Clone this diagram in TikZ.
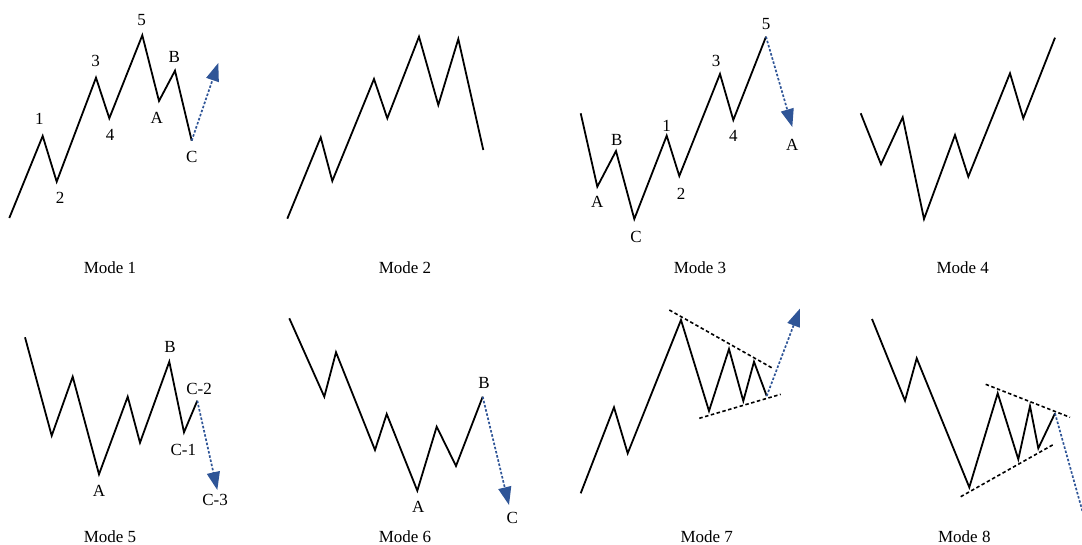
\documentclass[tikz,border=0pt]{standalone}
\usepackage{fontspec}
\setmainfont{Liberation Serif}
\usetikzlibrary{arrows.meta}
\definecolor{arrowblue}{RGB}{47,85,151}
\tikzset{
  wave/.style={line width=1.8pt, black, line join=miter},
  trend/.style={line width=1.6pt, black, dash pattern=on 3.5pt off 2.5pt},
  forecast/.style={line width=1.7pt, arrowblue, dash pattern=on 2.5pt off 1.8pt,
     -{Triangle[length=18pt,width=13pt,fill=arrowblue]}},
  lbl/.style={inner sep=0pt, font=\fontsize{17}{20}\selectfont},
}
\begin{document}
\begin{tikzpicture}[x=1pt,y=-1pt]
\useasboundingbox (0,0) rectangle (1082,545);
% ---------------- Mode 1
\coordinate (a0) at (9.3,218);
\coordinate (a1) at (42.7,136);
\coordinate (a2) at (56.7,181.7);
\coordinate (a3) at (96,77.7);
\coordinate (a4) at (109.3,118.3);
\coordinate (a5) at (142.3,35.3);
\coordinate (aA) at (159,101);
\coordinate (aB) at (175,70.7);
\coordinate (aC) at (191.7,140.7);
\coordinate (aT) at (218.3,63);
\draw[wave] (a0)--(a1)--(a2)--(a3)--(a4)--(a5)--(aA)--(aB)--(aC);
\draw[forecast] (aC)--(aT);
\node[lbl] (la1) at (39.3,119) {1};
\node[lbl] (la2) at (60,198) {2};
\node[lbl] (la3) at (95.7,61) {3};
\node[lbl] (la4) at (110,135) {4};
\node[lbl] (la5) at (141.7,20) {5};
\node[lbl] (laA) at (156.7,118) {A};
\node[lbl] (laB) at (174.3,57) {B};
\node[lbl] (laC) at (191.7,157) {C};
\node[lbl] (m1) at (110,267.5) {Mode 1};
% ---------------- Mode 2
\coordinate (b0) at (287.3,218.7);
\coordinate (b1) at (320.7,137.3);
\coordinate (b2) at (332.3,181);
\coordinate (b3) at (374,79);
\coordinate (b4) at (387.3,118.3);
\coordinate (b5) at (419,36.7);
\coordinate (b6) at (438.3,105);
\coordinate (b7) at (458.3,39);
\coordinate (b8) at (483.3,150);
\draw[wave] (b0)--(b1)--(b2)--(b3)--(b4)--(b5)--(b6)--(b7)--(b8);
\node[lbl] (m2) at (405,267.5) {Mode 2};
% ---------------- Mode 3
\coordinate (c0) at (580.7,113.3);
\coordinate (cA) at (597.3,186.7);
\coordinate (cB) at (616,151);
\coordinate (cC) at (634.3,219);
\coordinate (c1) at (666.7,135.7);
\coordinate (c2) at (679.3,176);
\coordinate (c3) at (720,74);
\coordinate (c4) at (733.3,120);
\coordinate (c5) at (766,36.7);
\coordinate (cT) at (792.3,127);
\draw[wave] (c0)--(cA)--(cB)--(cC)--(c1)--(c2)--(c3)--(c4)--(c5);
\draw[forecast] (c5)--(cT);
\node[lbl] (lcA) at (597.3,201.7) {A};
\node[lbl] (lcB) at (616.7,139.5) {B};
\node[lbl] (lcC) at (636,237.3) {C};
\node[lbl] (lc1) at (666.7,125.7) {1};
\node[lbl] (lc2) at (681,194.3) {2};
\node[lbl] (lc3) at (716,61) {3};
\node[lbl] (lc4) at (733.3,135.7) {4};
\node[lbl] (lc5) at (766,24.3) {5};
\node[lbl] (lcT) at (792.3,145) {A};
\node[lbl] (m3) at (700,267.5) {Mode 3};
% ---------------- Mode 4
\coordinate (d0) at (860.7,113.3);
\coordinate (d1) at (881,164.3);
\coordinate (d2) at (902.7,117.3);
\coordinate (d3) at (924,219);
\coordinate (d4) at (955,135);
\coordinate (d5) at (968.3,176.7);
\coordinate (d6) at (1010,73.3);
\coordinate (d7) at (1023.3,118.3);
\coordinate (d8) at (1055,37.7);
\draw[wave] (d0)--(d1)--(d2)--(d3)--(d4)--(d5)--(d6)--(d7)--(d8);
\node[lbl] (m4) at (962.7,267.5) {Mode 4};
% ---------------- Mode 5
\coordinate (e0) at (25,337.3);
\coordinate (e1) at (51.7,435.7);
\coordinate (e2) at (72.7,376.7);
\coordinate (eA) at (99,474.3);
\coordinate (e3) at (127.7,396.7);
\coordinate (e4) at (140,442.7);
\coordinate (eB) at (169.3,361.7);
\coordinate (eC1) at (184,432.3);
\coordinate (eC2) at (197.3,400.7);
\coordinate (eT) at (217.3,490);
\draw[wave] (e0)--(e1)--(e2)--(eA)--(e3)--(e4)--(eB)--(eC1)--(eC2);
\draw[forecast] (eC2)--(eT);
\node[lbl] (leB) at (170,346.7) {B};
\node[lbl] (leC2) at (199,389.3) {C-2};
\node[lbl] (leC1) at (183.3,450) {C-1};
\node[lbl] (leA) at (99,490.7) {A};
\node[lbl] (leC3) at (215,500) {C-3};
\node[lbl] (m5) at (110,536.5) {Mode 5};
% ---------------- Mode 6
\coordinate (f0) at (289.3,318.3);
\coordinate (f1) at (324.3,396.7);
\coordinate (f2) at (336,352.3);
\coordinate (f3) at (375,450);
\coordinate (f4) at (386.7,414);
\coordinate (fA) at (417.3,490.7);
\coordinate (f5) at (436.7,426.7);
\coordinate (f6) at (456,466);
\coordinate (fB) at (482.7,396.7);
\coordinate (fT) at (509,505);
\draw[wave] (f0)--(f1)--(f2)--(f3)--(f4)--(fA)--(f5)--(f6)--(fB);
\draw[forecast] (fB)--(fT);
\node[lbl] (lfB) at (484,383.3) {B};
\node[lbl] (lfA) at (418.3,506.7) {A};
\node[lbl] (lfC) at (512.3,518.3) {C};
\node[lbl] (m6) at (405,536.5) {Mode 6};
% ---------------- Mode 7
\coordinate (g0) at (580.7,493.3);
\coordinate (g1) at (614,407.3);
\coordinate (g2) at (627.7,453.3);
\coordinate (g3) at (681,320);
\coordinate (g4) at (709,411);
\coordinate (g5) at (729,349);
\coordinate (g6) at (743.3,401);
\coordinate (g7) at (754,361.7);
\coordinate (g8) at (766.7,396);
\coordinate (gU1) at (669.3,310);
\coordinate (gU2) at (772.7,368.3);
\coordinate (gL1) at (699.3,418.3);
\coordinate (gL2) at (780.7,394.3);
\coordinate (gT) at (800,308.5);
\draw[wave] (g0)--(g1)--(g2)--(g3)--(g4)--(g5)--(g6)--(g7)--(g8);
\draw[trend] (gU1)--(gU2);
\draw[trend] (gL1)--(gL2);
\draw[forecast] (g8)--(gT);
\node[lbl] (m7) at (706.7,536.5) {Mode 7};
% ---------------- Mode 8
\coordinate (h0) at (872,319);
\coordinate (h1) at (905,400.7);
\coordinate (h2) at (916.7,358.3);
\coordinate (h3) at (969.3,487.3);
\coordinate (h4) at (997.7,393.3);
\coordinate (h5) at (1018.3,459.3);
\coordinate (h6) at (1030,406);
\coordinate (h7) at (1038.3,448.3);
\coordinate (h8) at (1055,413.3);
\coordinate (hU1) at (985.7,384.3);
\coordinate (hU2) at (1070,417.3);
\coordinate (hL1) at (960.7,496.7);
\coordinate (hL2) at (1054.3,444);
\coordinate (hT) at (1095,556);
\draw[wave] (h0)--(h1)--(h2)--(h3)--(h4)--(h5)--(h6)--(h7)--(h8);
\draw[trend] (hU1)--(hU2);
\draw[trend] (hL1)--(hL2);
\begin{scope}
\clip (0,0) rectangle (1082,545);
\draw[forecast] (h8)--(hT);
\end{scope}
\node[lbl] (m8) at (964.3,536.5) {Mode 8};
\end{tikzpicture}
\end{document}
